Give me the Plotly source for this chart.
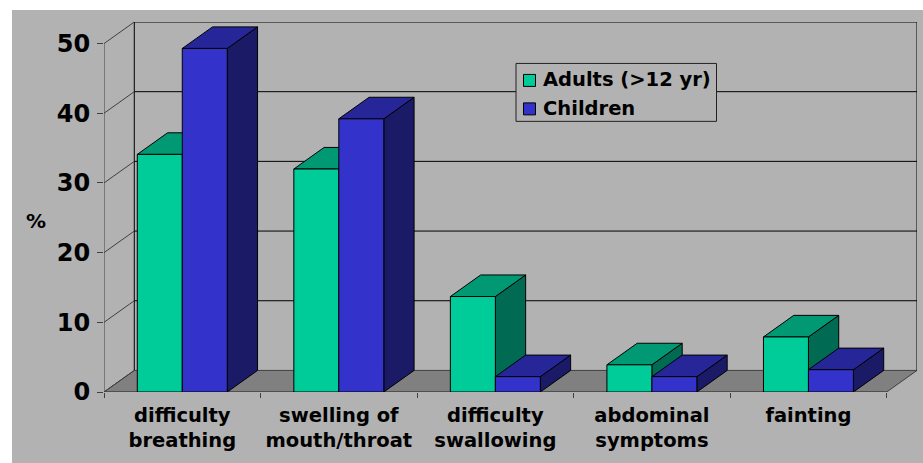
import plotly.graph_objects as go

categories = ["difficulty<br>breathing", "swelling of<br>mouth/throat", "difficulty<br>swallowing", "abdominal<br>symptoms", "fainting"]
adults = [34.1, 32.0, 13.7, 3.9, 7.9]
children = [49.3, 39.2, 2.2, 2.2, 3.2]
y_ticks = [0, 10, 20, 30, 40, 50]

W, H = 923, 463
L, R, T, B = 104, 917, 22, 392.5
PX_X = (887 - 104) / 5
PX_Y = (392.5 - 43.7) / 50
DX = 30.3 / PX_X
DY = 21.6 / PX_Y
BAR = 45 / PX_X
XMAX = 5 + DX
YMAX = 50 + DY
FONT = "DejaVu Sans"

C_A = ("#00CC99", "#009973", "#006B52")
C_C = ("#3333CC", "#262699", "#1A1A66")
FLOOR = "#808080"
BG = "#B2B2B2"

fig = go.Figure()


def poly(xs, ys, color, line="#000000", width=1):
    fig.add_trace(go.Scatter(x=xs, y=ys, mode="lines", fill="toself", fillcolor=color,
                             line=dict(color=line, width=width), hoverinfo="skip",
                             showlegend=False, cliponaxis=False))


def lines(xs, ys, color, width=1):
    fig.add_trace(go.Scatter(x=xs, y=ys, mode="lines", line=dict(color=color, width=width),
                             hoverinfo="skip", showlegend=False, cliponaxis=False))


# floor
poly([0, 5, 5 + DX, DX, 0], [0, 0, DY, DY, 0], FLOOR, "#404040")

# back wall gridlines and frame
gx, gy = [], []
for t in y_ticks[1:]:
    gx += [DX, 5 + DX, None]
    gy += [t + DY, t + DY, None]
gx += [DX, DX, None, 5 + DX, 5 + DX]
gy += [DY, 50 + DY, None, DY, 50 + DY]
lines(gx, gy, "#000000")

# side wall diagonals
sx, sy = [], []
for t in y_ticks:
    sx += [0, DX, None]
    sy += [t, t + DY, None]
lines(sx, sy, "#404040")

# axis lines
lines([0, 0], [0, 50], "#404040")
lines([0, 5], [0, 0], "#404040")

# bar depth faces
for i in range(len(categories)):
    c = i + 0.5
    for v, x0, cols in ((adults[i], c - BAR, C_A), (children[i], c, C_C)):
        x1 = x0 + BAR
        poly([x1, x1 + DX, x1 + DX, x1, x1], [0, DY, v + DY, v, 0], cols[2])
        poly([x0, x0 + DX, x1 + DX, x1, x0], [v, v + DY, v + DY, v, v], cols[1])

# bar fronts (overlay axes with identical scales, drawn above the depth faces)
centres = [i + 0.5 for i in range(len(categories))]
names = ("Adults (>12 yr)", "Children")
for vals, off, col, name in ((adults, -BAR, C_A[0], names[0]), (children, 0, C_C[0], names[1])):
    fig.add_trace(go.Bar(x=centres, y=vals, width=BAR, offset=off, name=name,
                         marker=dict(color=col, line=dict(color="#000000", width=1)),
                         cliponaxis=False, xaxis="x2", yaxis="y2", showlegend=False))


def px(x):
    return (x - L) / (R - L)


def py(y):
    return (B - y) / (B - T)


shapes = [
    dict(type="rect", xref="paper", yref="paper", x0=px(12), x1=px(930), y0=py(475), y1=py(10),
         fillcolor=BG, line=dict(width=0), layer="below"),
    dict(type="rect", xref="paper", yref="paper", x0=px(516), x1=px(716.5), y0=py(121.5), y1=py(63.5),
         fillcolor=BG, line=dict(color="#222222", width=1), layer="above"),
    dict(type="rect", xref="paper", yref="paper", x0=px(523.5), x1=px(535.5), y0=py(86.5), y1=py(74.5),
         fillcolor=C_A[0], line=dict(color="#000000", width=1), layer="above"),
    dict(type="rect", xref="paper", yref="paper", x0=px(523.5), x1=px(535.5), y0=py(115), y1=py(103),
         fillcolor=C_C[0], line=dict(color="#000000", width=1), layer="above"),
]
bold = dict(family=FONT, color="#000000", weight=700)
annotations = [
    dict(text=names[0], xref="paper", yref="paper", x=px(541), y=py(80), xanchor="left", yanchor="middle",
         showarrow=False, font=dict(size=19.5, **bold)),
    dict(text=names[1], xref="paper", yref="paper", x=px(541), y=py(108.5), xanchor="left", yanchor="middle",
         showarrow=False, font=dict(size=19.5, **bold)),
    dict(text="%", xref="paper", yref="paper", x=px(36), y=py(221), xanchor="center", yanchor="middle",
         showarrow=False, font=dict(size=20, **bold)),
]

fig.update_layout(
    width=W, height=H, autosize=False,
    margin=dict(l=L, r=W - R, t=T, b=H - B, pad=0),
    paper_bgcolor="#FFFFFF", plot_bgcolor="rgba(0,0,0,0)",
    barmode="overlay", showlegend=False,
    font=dict(family=FONT, color="#000000"),
    shapes=shapes, annotations=annotations,
    xaxis=dict(range=[0, XMAX], tickmode="array", tickvals=centres, ticktext=categories,
               ticks="", showgrid=False, zeroline=False, showline=False,
               tickfont=dict(size=19.5, **bold), tickangle=0,
               ticklabelstandoff=9,
               minor=dict(tickmode="array", tickvals=[0, 1, 2, 3, 4, 5], ticks="outside", ticklen=5,
                          tickcolor="#404040", tickwidth=1, showgrid=False)),
    yaxis=dict(range=[0, YMAX], tickmode="array", tickvals=y_ticks, ticks="outside", ticklen=6,
               tickcolor="#404040", showgrid=False, zeroline=False, showline=False,
               tickfont=dict(size=24, **bold), ticklabelstandoff=2),
    xaxis2=dict(range=[0, XMAX], overlaying="x", visible=False),
    yaxis2=dict(range=[0, YMAX], overlaying="y", visible=False),
)

fig.write_html("out.html", config={"displayModeBar": False},
               post_script="document.body.style.margin='0';")
